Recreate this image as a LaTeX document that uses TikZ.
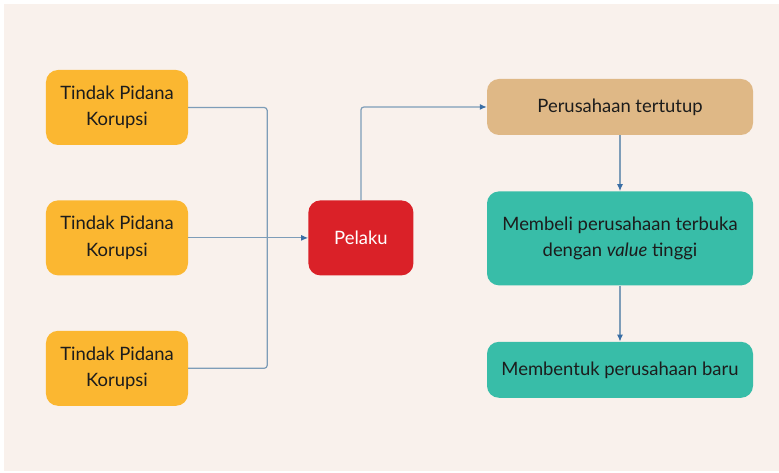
\documentclass[tikz,border=0pt]{standalone}
\usepackage{fontspec}
\setmainfont{Lato}
\usepackage{xcolor}
\usetikzlibrary{arrows.meta,positioning}

\definecolor{paper}{HTML}{F9F1EC}
\definecolor{korupsiorange}{HTML}{FBB731}
\definecolor{pelakured}{HTML}{DA2128}
\definecolor{tutuptan}{HTML}{DFB886}
\definecolor{stepteal}{HTML}{38BDA8}
\definecolor{wire}{HTML}{7E9DB8}
\definecolor{tipblue}{HTML}{3A6EA5}
\definecolor{ink}{HTML}{1C1C1C}

\begin{document}
\begin{tikzpicture}[
  x=1bp, y=-1bp,
  font=\fontsize{18.5}{26.5}\selectfont,
  node distance=55bp and 120bp,
  box/.style={
    rounded corners=12bp,
    align=center,
    inner sep=0pt,
    text=ink
  },
  source/.style={box, fill=korupsiorange, minimum width=142bp, minimum height=75bp},
  actor/.style={box, fill=pelakured, text=white, minimum width=105bp, minimum height=75bp},
  outcome/.style={box, minimum width=266bp},
  link/.style={wire, line width=1.2bp, rounded corners=3bp},
  arr/.style={link, -{Latex[length=7bp,width=6bp,color=tipblue]}}
]
  % canvas
  \useasboundingbox[fill=white] (0,0) rectangle (779,473);
  \fill[paper] (4,4) rectangle (779,471);

  % Left column
  \node[source] (korupsiA) at (117,107.5) {Tindak Pidana\\Korupsi};
  \node[source, below=of korupsiA] (korupsiB) {Tindak Pidana\\Korupsi};
  \node[source, below=of korupsiB] (korupsiC) {Tindak Pidana\\Korupsi};

  % Middle
  \node[actor, right=of korupsiB] (pelaku) {Pelaku};
  \coordinate[right=79bp of korupsiB.east] (bus);

  \draw[link] (korupsiA.east) -| (bus) |- (korupsiC.east);
  \draw[arr] (korupsiB.east) -- (pelaku.west);

  % Right column
  \node[outcome, fill=tutuptan, minimum height=56bp] (tertutup) at (620,107)
    {Perusahaan tertutup};
  \node[outcome, fill=stepteal, minimum height=94bp, below=56bp of tertutup] (membeli)
    {Membeli perusahaan terbuka\\dengan \textit{value} tinggi};
  \node[outcome, fill=stepteal, minimum height=56bp, below=56bp of membeli] (bentuk)
    {Membentuk perusahaan baru};

  \draw[arr] (pelaku.north) |- (tertutup.west);
  \draw[arr] (tertutup) -- (membeli);
  \draw[arr] (membeli) -- (bentuk);
\end{tikzpicture}
\end{document}
